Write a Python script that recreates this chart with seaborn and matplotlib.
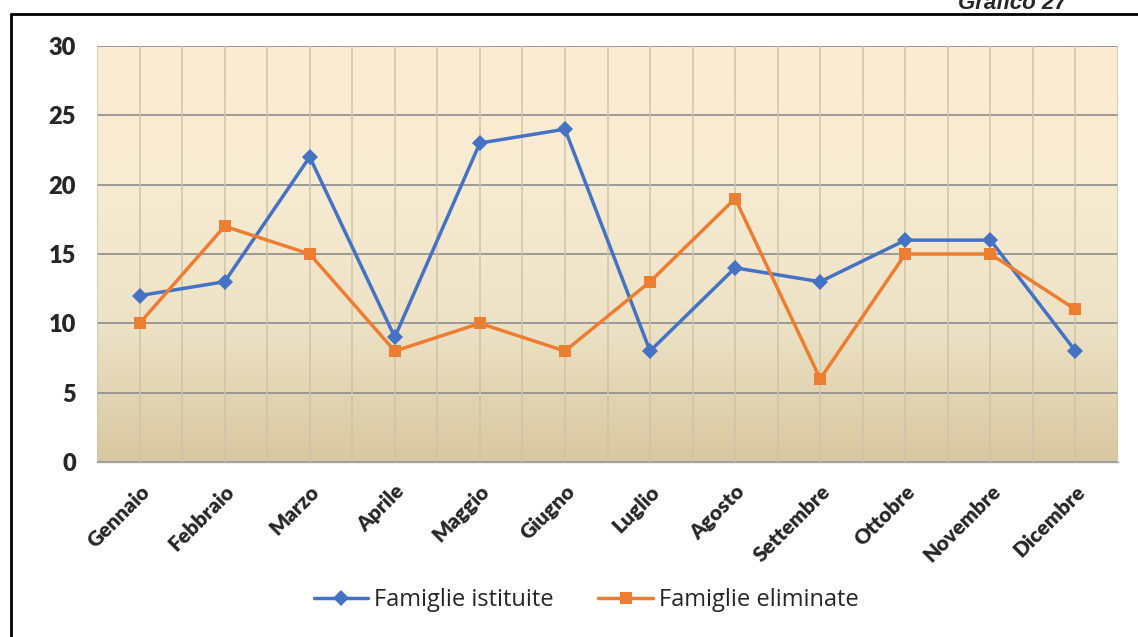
import numpy as np
import pandas as pd
import matplotlib
matplotlib.use("Agg")
import matplotlib.pyplot as plt
from matplotlib.ticker import FixedLocator, MultipleLocator
from matplotlib.colors import LinearSegmentedColormap
import seaborn as sns

mesi = ["Gennaio", "Febbraio", "Marzo", "Aprile", "Maggio", "Giugno",
        "Luglio", "Agosto", "Settembre", "Ottobre", "Novembre", "Dicembre"]
istituite = [12, 13, 22, 9, 23, 24, 8, 14, 13, 16, 16, 8]
eliminate = [10, 17, 15, 8, 10, 8, 13, 19, 6, 15, 15, 11]
serie = ["Famiglie istituite", "Famiglie eliminate"]

df = pd.concat([
    pd.DataFrame({"Mese": mesi, "Valore": istituite, "Serie": serie[0]}),
    pd.DataFrame({"Mese": mesi, "Valore": eliminate, "Serie": serie[1]}),
])

sns.set_style("white")
plt.rcParams["font.family"] = ["Lato", "DejaVu Sans"]

fig = plt.figure(figsize=(11.38, 6.37), dpi=100)
W, H = 1138, 637
ax = fig.add_axes([97 / W, 1 - 462 / H, (1118 - 97) / W, (462 - 46) / H])

# gradient background of the plot area
grad = LinearSegmentedColormap.from_list(
    "bg", ["#d8c8a1", "#ede2c6", "#f7ebd2", "#fcecd2"])
ax.imshow(np.linspace(0, 1, 256).reshape(-1, 1), cmap=grad, aspect="auto",
          extent=[-0.5, 11.5, 0, 30], origin="lower", zorder=0)

palette = {serie[0]: "#4472c4", serie[1]: "#ed7d31"}
markers = {serie[0]: "D", serie[1]: "s"}
sns.lineplot(data=df, x="Mese", y="Valore", hue="Serie", style="Serie",
             palette=palette, markers=markers, dashes=False, sort=False,
             linewidth=2.5, markersize=9, markeredgewidth=0, ax=ax,
             zorder=3)
for ln in ax.lines:
    if ln.get_marker() == "D":
        ln.set_markersize(8)

ax.set_xlim(-0.5, 11.5)
ax.set_ylim(0, 30)
ax.yaxis.set_major_locator(MultipleLocator(5))
ax.set_xlabel("")
ax.set_ylabel("")

# grid: horizontal grey, vertical tan at centres and boundaries
ax.grid(axis="y", color="#8c8c8c", linewidth=1.2, zorder=1)
for x in np.arange(-0.5, 11.6, 0.5):
    ax.axvline(x, color="#cfc3a8", linewidth=1.1, zorder=1)

for s in ["top", "right", "left"]:
    ax.spines[s].set_visible(False)
ax.spines["bottom"].set_color("#a6a6a6")
ax.spines["bottom"].set_linewidth(1.0)

ax.set_xticks(range(12))
ax.set_xticklabels(mesi, rotation=45, ha="right", rotation_mode="anchor",
                   fontsize=15, fontweight="heavy")
ax.xaxis.set_minor_locator(FixedLocator(np.arange(-0.5, 11.6, 1)))
ax.tick_params(axis="x", which="major", length=0, pad=14)
ax.tick_params(axis="x", which="minor", length=6, color="#a6a6a6", width=1)
ax.tick_params(axis="y", length=0, pad=15, labelsize=17)
for t in ax.get_yticklabels():
    t.set_fontweight("heavy")
    t.set_horizontalalignment("right")

leg = ax.legend(title=None, loc="center",
                bbox_to_anchor=((586 - 97) / 1021, (462 - 600) / 416),
                ncol=2, frameon=False, handlelength=2.3,
                columnspacing=1.9, handletextpad=0.25,
                prop={"family": ["Open Sans", "DejaVu Sans"], "size": 17})

# frame lines and heading
fig.add_artist(plt.Line2D([11 / W, 1], [1 - 14 / H, 1 - 14 / H],
                          color="black", linewidth=2))
fig.add_artist(plt.Line2D([11 / W, 11 / W], [0, 1 - 14 / H],
                          color="black", linewidth=2))
fig.text(1067 / W, 1 - 9 / H, "Grafico 27", ha="right", va="baseline",
         fontsize=16, fontweight="bold", fontstyle="italic",
         family=["Liberation Sans", "DejaVu Sans"])

fig.savefig("out.png", dpi=100)
